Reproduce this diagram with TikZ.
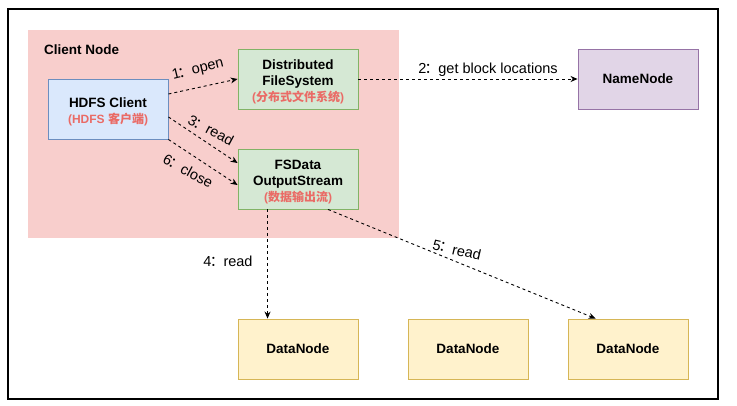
\documentclass[tikz,border=0pt]{standalone}
\usepackage{fontspec}
\setmainfont{Liberation Sans}
\newfontfamily\cjk{Noto Sans CJK SC}
\usetikzlibrary{arrows.meta,calc}
\definecolor{pinkbg}{HTML}{F8CECC}
\definecolor{bluefill}{HTML}{DAE8FC}
\definecolor{bluedraw}{HTML}{6C8EBF}
\definecolor{greenfill}{HTML}{D5E8D4}
\definecolor{greendraw}{HTML}{82B366}
\definecolor{purplefill}{HTML}{E1D5E7}
\definecolor{purpledraw}{HTML}{9673A6}
\definecolor{yellowfill}{HTML}{FFF2CC}
\definecolor{yellowdraw}{HTML}{D6B656}
\definecolor{redtext}{HTML}{EA6B66}
\newcommand{\redsub}[1]{{\fontsize{12}{16}\selectfont\color{redtext}#1}}
\newcommand{\topstrut}{\rule{0pt}{15pt}}
\newcommand{\cc}{\kern-0.12em{\cjk ：}\kern-0.05em}
\tikzset{
  box/.style={draw, line width=0.9pt, minimum width=120pt, minimum height=60pt, inner sep=0pt, align=center,
    font=\bfseries\fontsize{13.5}{16}\selectfont},
  conn/.style={draw, line width=0.9pt, dash pattern=on 3pt off 3pt, -{Stealth[length=7pt,width=6pt]}},
  lbl/.style={font=\fontsize{14.5}{16}\selectfont, inner sep=1pt}
}
\begin{document}
\begin{tikzpicture}[x=1pt,y=-1pt]
\useasboundingbox (0,0) rectangle (737,406);
\fill[white] (0,0) rectangle (737,406);
\draw[line width=1.3pt] (8,9) rectangle (718,399);
\fill[pinkbg] (28,30) rectangle (399,238);
\node[anchor=west, font=\bfseries\fontsize{13.5}{16}\selectfont, inner sep=0pt] (cn) at (44,50) {Client Node};

\node[box, fill=bluefill, draw=bluedraw] (hc) at (108,109) {\topstrut HDFS Client\\\redsub{(HDFS {\cjk\bfseries 客户端})}};
\node[box, fill=greenfill, draw=greendraw] (dfs) at (298,79) {\topstrut Distributed\\FileSystem\\\redsub{({\cjk\bfseries 分布式文件系统})}};
\node[box, fill=greenfill, draw=greendraw] (fs) at (298,179) {\topstrut FSData\\OutputStream\\\redsub{({\cjk\bfseries 数据输出流})}};
\node[box, fill=purplefill, draw=purpledraw] (nn) at (638,79) {NameNode};
\node[box, fill=yellowfill, draw=yellowdraw] (dn1) at (298,349) {DataNode};
\node[box, fill=yellowfill, draw=yellowdraw] (dn2) at (468,349) {DataNode};
\node[box, fill=yellowfill, draw=yellowdraw] (dn3) at (628,349) {DataNode};

\draw[conn] ($(hc.east)+(0,-15)$) -- (dfs.west);
\draw[conn] ($(hc.east)+(0,8)$) -- ($(fs.west)+(0,-16)$);
\draw[conn] (hc.south east) -- ($(fs.west)+(0,6)$);
\draw[conn] (dfs.east) -- (nn.west);
\draw[conn] ($(fs.south west)+(30,0)$) -- ($(dn1.north west)+(30,0)$);
\draw[conn] ($(fs.south)+(30,0)$) -- ($(dn3.north west)+(28,0)$);

\node[lbl, rotate=14] (l1) at (198,70) {1\cc open};
\node[lbl] (l2) at (488,70) {2\cc get block locations};
\node[lbl, rotate=-28] (l3) at (211,130) {3\cc read};
\node[lbl, rotate=-28] (l6) at (188,171) {6\cc close};
\node[lbl] (l4) at (228,261) {4\cc read};
\node[lbl, rotate=-13] (l5) at (457,250) {5\cc read};
\end{tikzpicture}
\end{document}
